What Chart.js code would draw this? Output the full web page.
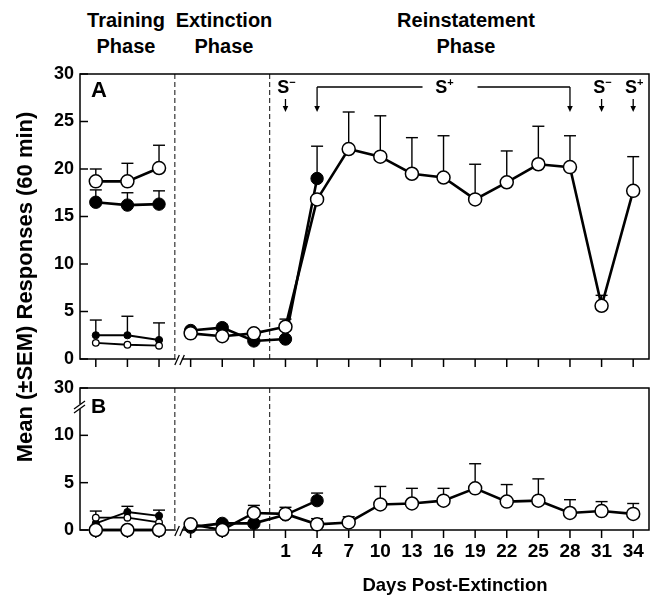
<!DOCTYPE html>
<html><head><meta charset="utf-8">
<script src="https://cdn.jsdelivr.net/npm/chart.js@4.4.1/dist/chart.umd.min.js"></script>
<style>
html,body{margin:0;padding:0;background:#fff;}
#wrap{position:relative;width:657px;height:596px;overflow:hidden;font-family:'Liberation Sans',Arial,Helvetica,sans-serif;font-weight:bold;color:#000;}
canvas{position:absolute;left:0;}
#cA{top:0;} #cB{top:380px;}
.hdr{position:absolute;top:7px;width:200px;text-align:center;font-size:20px;line-height:26px;}
#ytitle{position:absolute;left:-175px;top:274px;width:400px;height:26px;line-height:26px;text-align:center;font-size:22px;transform:rotate(-90deg);white-space:nowrap;}
#xtitle{position:absolute;left:305px;top:573px;width:300px;height:24px;line-height:24px;text-align:center;font-size:18.5px;white-space:nowrap;}
</style></head>
<body>
<div id="wrap">
  <div class="hdr" style="left:26px">Training<br>Phase</div>
  <div class="hdr" style="left:124px">Extinction<br>Phase</div>
  <div class="hdr" style="left:366px">Reinstatement<br>Phase</div>
  <canvas id="cA" width="657" height="380"></canvas>
  <canvas id="cB" width="657" height="216"></canvas>
  <div id="ytitle">Mean (±SEM) Responses (60 min)</div>
  <div id="xtitle">Days Post-Extinction</div>
</div>
<script>
// ---------- categories / tick labels ----------
const sessionTicks = ['', '', '', '', '', '', '1', '4', '7', '10', '13', '16', '19', '22', '25', '28', '31', '34'];
const trainingSlots = [0, 1, 2];
const postSlots = [3, 4, 5, 6, 7, 8, 9, 10, 11, 12, 13, 14, 15, 16, 17];
const filledPostSlots = [3, 4, 5, 6, 7];
const phaseBreaks = [2.5, 5.5];
const yTicksA = [0, 5, 10, 15, 20, 25, 30];
const yTicksB = [0, 5, 10, 15];
const yTickLabelsB = ['0', '5', '10', '30'];
const cueMinusDays = ['1', '31'];
const cuePlusDays = ['34'];
const bracketDays = ['4', '28'];

// ---------- Panel A values ----------
const aTrainOpenBig = [18.7, 18.7, 20.1];
const aTrainOpenBigSem = [1.3, 1.9, 2.4];
const aTrainFilledBig = [16.5, 16.2, 16.3];
const aTrainFilledBigSem = [1.3, 1.3, 1.4];
const aTrainFilledSmall = [2.5, 2.5, 2.0];
const aTrainFilledSmallSem = [1.6, 2.0, 1.8];
const aTrainOpenSmall = [1.7, 1.5, 1.4];
const aPostFilled = [3.0, 3.3, 1.9, 2.1, 19.0];
const aPostFilledSem = [null, null, null, null, 3.4];
const aPostOpen = [2.7, 2.4, 2.7, 3.4, 16.8, 22.1, 21.3, 19.5, 19.1, 16.8, 18.6, 20.5, 20.2, 5.6, 17.7];
const aPostOpenSem = [null, null, null, 0.8, null, 3.9, 4.3, 3.8, 4.4, 3.7, 3.3, 4.0, 3.3, 1.1, 3.6];

// ---------- Panel B values ----------
const bTrainOpenBig = [0, 0, 0];
const bTrainFilledBig = [0, 0, 0];
const bTrainFilledSmall = [0.7, 1.9, 1.5];
const bTrainFilledSmallSem = [1.3, 0.6, 0.6];
const bTrainOpenSmall = [1.3, 1.3, 0.8];
const bPostFilled = [0.3, 0.7, 0.7, 1.6, 3.1];
const bPostFilledSem = [null, null, null, null, 0.8];
const bPostOpen = [0.6, 0.0, 1.8, 1.7, 0.6, 0.8, 2.7, 2.8, 3.1, 4.4, 3.0, 3.1, 1.8, 2.0, 1.7];
const bPostOpenSem = [null, null, 0.8, 0.7, 0.6, 0.6, 1.9, 1.6, 1.3, 2.6, 1.8, 2.3, 1.4, 1.0, 1.1];

// ---------- styles ----------
const FONT = "'Liberation Sans', Arial, sans-serif";
const bigOpen = {pointRadius: 6.5, pointBackgroundColor: '#fff', pointBorderWidth: 1.5, borderWidth: 2.6};
const bigFilled = {pointRadius: 6.2, pointBackgroundColor: '#000', pointBorderWidth: 1, borderWidth: 2.6};
const smallOpen = {pointRadius: 3.3, pointBackgroundColor: '#fff', pointBorderWidth: 1.3, borderWidth: 1.8};
const smallFilled = {pointRadius: 3.6, pointBackgroundColor: '#000', pointBorderWidth: 1, borderWidth: 1.8};

function pts(xs, ys) { return ys.map((v, i) => ({x: xs[i], y: v})); }
function mk(label, xs, ys, sem, style) {
  return Object.assign({label, data: pts(xs, ys), sem: sem || null, clip: false,
    borderColor: '#000', pointBorderColor: '#000', tension: 0, pointHoverRadius: 0}, style);
}

function line(ctx, x1, y1, x2, y2) { ctx.beginPath(); ctx.moveTo(x1, y1); ctx.lineTo(x2, y2); ctx.stroke(); }
function arrowDown(ctx, x, y1, y2) {
  ctx.lineWidth = 1.3; line(ctx, x, y1, x, y2 - 3);
  ctx.beginPath(); ctx.moveTo(x - 2.8, y2 - 6); ctx.lineTo(x + 2.8, y2 - 6); ctx.lineTo(x, y2); ctx.closePath(); ctx.fill();
}
function cueText(ctx, cx, baseline, sup) {
  ctx.font = 'bold 18px ' + FONT;
  const wS = ctx.measureText('S').width;
  ctx.font = 'bold 11px ' + FONT;
  const wP = ctx.measureText(sup).width;
  const left = cx - (wS + wP) / 2 + 1;
  ctx.font = 'bold 18px ' + FONT;
  ctx.fillText('S', left, baseline);
  ctx.font = 'bold 11px ' + FONT;
  ctx.fillText(sup, left + wS, baseline - 7);
}

const panelPlugin = {
  id: 'panel',
  beforeDatasetsDraw(chart, args, o) {
    const {ctx, chartArea: a, scales: {x, y}} = chart;
    ctx.save();
    ctx.strokeStyle = '#000'; ctx.fillStyle = '#000';
    // phase dashed lines
    ctx.lineWidth = 1.1; ctx.setLineDash([5, 3]); ctx.strokeStyle = '#222';
    phaseBreaks.forEach(p => { const px = x.getPixelForValue(p); line(ctx, px, a.top, px, a.bottom); });
    ctx.setLineDash([]); ctx.strokeStyle = '#000';
    // frame
    ctx.lineWidth = 1.5;
    ctx.strokeRect(a.left, a.top, a.right - a.left, a.bottom - a.top);
    // y ticks (inward)
    y.ticks.forEach(t => { const py = y.getPixelForValue(t.value); line(ctx, a.left, py, a.left + 8, py); });
    // x ticks (outward)
    x.ticks.forEach(t => { const px = x.getPixelForValue(t.value); line(ctx, px, a.bottom, px, a.bottom + 8); });
    // x axis break
    const bx = x.getPixelForValue(phaseBreaks[0]);
    ctx.fillStyle = '#fff'; ctx.fillRect(bx + 1, a.bottom - 2, 6, 4); ctx.fillStyle = '#000';
    ctx.lineWidth = 1.3;
    line(ctx, bx, a.bottom + 6, bx + 4.5, a.bottom - 4);
    line(ctx, bx + 5, a.bottom + 6, bx + 9.5, a.bottom - 4);
    // y axis break (panel B)
    if (o.yBreak) {
      const yy = a.top + 18;
      ctx.fillStyle = '#fff'; ctx.fillRect(a.left - 2, yy - 2, 4, 5); ctx.fillStyle = '#000';
      line(ctx, a.left - 6, yy + 3, a.left + 5, yy - 5);
      line(ctx, a.left - 6, yy + 7, a.left + 5, yy - 1);
    }
    // error bars (upper SEM)
    ctx.lineWidth = 1.4;
    chart.data.datasets.forEach(ds => {
      if (!ds.sem) return;
      ds.data.forEach((p, j) => {
        const s = ds.sem[j];
        if (s == null) return;
        const px = x.getPixelForValue(p.x), py = y.getPixelForValue(p.y), pe = y.getPixelForValue(p.y + s);
        line(ctx, px, py, px, pe);
        line(ctx, px - 6, pe, px + 6, pe);
      });
    });
    ctx.restore();
  },
  afterDatasetsDraw(chart, args, o) {
    const {ctx, chartArea: a, scales: {x}} = chart;
    ctx.save();
    ctx.fillStyle = '#000'; ctx.strokeStyle = '#000';
    ctx.textBaseline = 'alphabetic'; ctx.textAlign = 'left';
    if (o.letter) {
      ctx.font = 'bold ' + o.letterSize + 'px ' + FONT;
      ctx.fillText(o.letter, a.left + 11, a.top + o.letterDy);
    }
    if (o.cues) {
      const px = d => x.getPixelForValue(sessionTicks.indexOf(d));
      const base = a.top + 19, arrowTop = a.top + 25, arrowTip = a.top + 38;
      cueMinusDays.forEach(d => { cueText(ctx, px(d), base, '\u2212'); arrowDown(ctx, px(d), arrowTop, arrowTip); });
      cuePlusDays.forEach(d => { cueText(ctx, px(d), base, '+'); arrowDown(ctx, px(d), arrowTop, arrowTip); });
      const l = px(bracketDays[0]), r = px(bracketDays[1]), mid = (l + r) / 2, ly = a.top + 13;
      cueText(ctx, mid, base, '+');
      ctx.lineWidth = 1.3;
      line(ctx, l, ly, mid - 21, ly);
      line(ctx, mid + 34, ly, r, ly);
      arrowDown(ctx, l, ly, arrowTip);
      arrowDown(ctx, r, ly, arrowTip);
    }
    ctx.restore();
  }
};

function xScale(showLabels, height) {
  return {
    type: 'linear', min: -0.5, max: 17.5,
    afterBuildTicks: s => { s.ticks = sessionTicks.map((_, i) => ({value: i})); },
    ticks: {display: showLabels, autoSkip: false, maxRotation: 0, minRotation: 0, padding: 10,
      color: '#000', font: {family: FONT, size: 19, weight: 'bold'},
      callback: v => sessionTicks[Math.round(v)] || ''},
    grid: {display: false, drawTicks: false},
    border: {display: false},
    afterFit: s => { s.height = height; s.paddingLeft = 0; s.paddingRight = 0; }
  };
}
function yScale(max, tickVals, labels) {
  return {
    min: 0, max: max,
    afterBuildTicks: s => { s.ticks = tickVals.map(v => ({value: v})); },
    ticks: {padding: 6, color: '#000', font: {family: FONT, size: 18, weight: 'bold'},
      callback: v => labels ? labels[tickVals.indexOf(v)] : String(v)},
    grid: {display: false, drawTicks: false},
    border: {display: false},
    afterFit: s => { s.width = 80; s.paddingTop = 0; s.paddingBottom = 0; }
  };
}

const common = {responsive: false, animation: false, events: [],
  plugins: {legend: {display: false}, tooltip: {enabled: false}}};

new Chart(document.getElementById('cA'), {
  type: 'line',
  data: {datasets: [
    mk('A training open', trainingSlots, aTrainOpenBig, aTrainOpenBigSem, bigOpen),
    mk('A training filled', trainingSlots, aTrainFilledBig, aTrainFilledBigSem, bigFilled),
    mk('A training open small', trainingSlots, aTrainOpenSmall, null, smallOpen),
    mk('A training filled small', trainingSlots, aTrainFilledSmall, aTrainFilledSmallSem, smallFilled),
    mk('A post open', postSlots, aPostOpen, aPostOpenSem, bigOpen),
    mk('A post filled', filledPostSlots, aPostFilled, aPostFilledSem, bigFilled)
  ]},
  options: Object.assign({}, common, {
    layout: {padding: {top: 74, right: 8, left: 0, bottom: 0}},
    scales: {x: xScale(false, 21), y: yScale(30, yTicksA, null)},
    plugins: Object.assign({}, common.plugins, {panel: {letter: 'A', letterSize: 22, letterDy: 23, cues: true}})
  }),
  plugins: [panelPlugin]
});

new Chart(document.getElementById('cB'), {
  type: 'line',
  data: {datasets: [
    mk('B training open', trainingSlots, bTrainOpenBig, null, bigOpen),
    mk('B training filled', trainingSlots, bTrainFilledBig, null, bigFilled),
    mk('B training open small', trainingSlots, bTrainOpenSmall, null, smallOpen),
    mk('B training filled small', trainingSlots, bTrainFilledSmall, bTrainFilledSmallSem, smallFilled),
    mk('B post open', postSlots, bPostOpen, bPostOpenSem, bigOpen),
    mk('B post filled', filledPostSlots, bPostFilled, bPostFilledSem, bigFilled)
  ]},
  options: Object.assign({}, common, {
    layout: {padding: {top: 7, right: 7, left: 0, bottom: 0}},
    scales: {x: xScale(true, 66), y: yScale(15, yTicksB, yTickLabelsB)},
    plugins: Object.assign({}, common.plugins, {panel: {letter: 'B', letterSize: 21, letterDy: 25, yBreak: true}})
  }),
  plugins: [panelPlugin]
});
</script>
</body></html>
